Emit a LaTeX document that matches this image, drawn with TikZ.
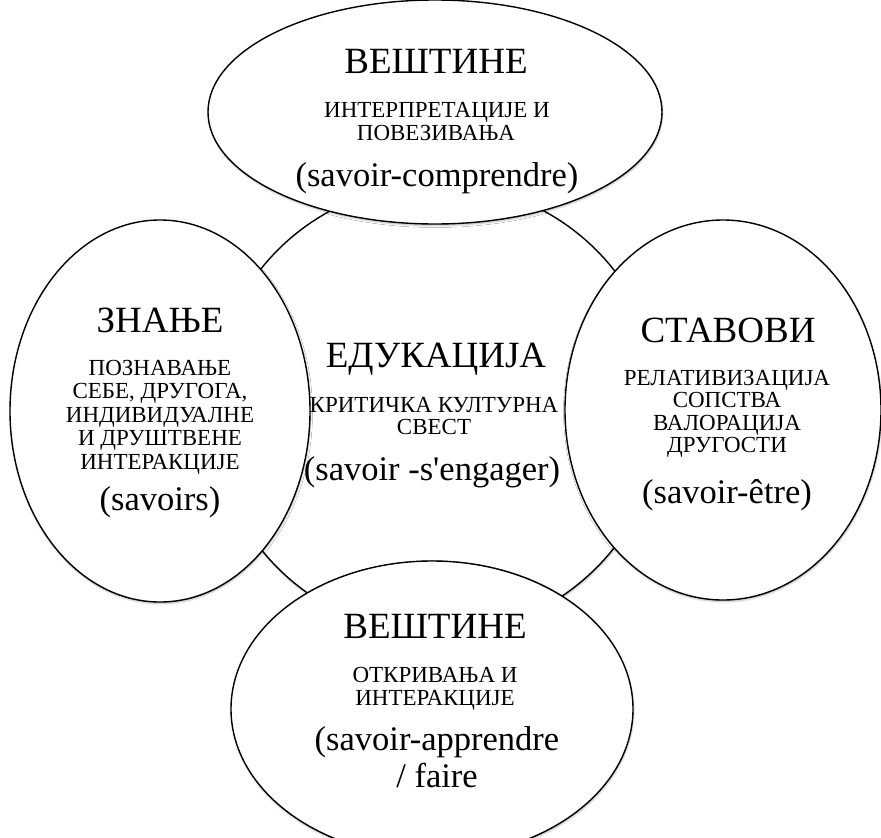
\documentclass[tikz,border=0pt]{standalone}
\usepackage{fontspec}
\setmainfont{Liberation Serif}
\usetikzlibrary{shapes.geometric,shadows.blur}
\begin{document}
\begin{tikzpicture}[x=1pt,y=-1pt,
  bubble/.style={ellipse, draw=black, line width=1.4pt, fill=white, inner sep=0pt,
     blur shadow={shadow xshift=0.5pt, shadow yshift=-1.5pt, shadow opacity=30, shadow blur radius=2pt}},
  title/.style={font=\fontsize{37}{40}\selectfont, anchor=base, inner sep=0pt},
  sub/.style={font=\fontsize{23}{25}\selectfont, anchor=base, inner sep=0pt},
  par/.style={font=\fontsize{34.5}{38}\selectfont, anchor=base, inner sep=0pt},
]
\useasboundingbox (0,0) rectangle (881,838);
% central circle
\node[bubble, minimum width=450pt, minimum height=450pt] (core) at (437,409) {};
% surrounding ellipses
\node[bubble, minimum width=454pt, minimum height=224pt] (top) at (435,112) {};
\node[bubble, minimum width=300pt, minimum height=382pt] (left) at (160,411) {};
\node[bubble, minimum width=316pt, minimum height=380pt] (right) at (723,410) {};
\node[bubble, minimum width=402pt, minimum height=296pt] (bottom) at (432,709) {};
% top texts
\node[title] (t1) at (436,73) {ВЕШТИНЕ};
\node[sub] (t2) at (437,117) {ИНТЕРПРЕТАЦИЈЕ И};
\node[sub] (t3) at (436,140) {ПОВЕЗИВАЊА};
\node[par] (t4) at (437,186) {(savoir-comprendre)};
% left texts
\node[title] (l1) at (160,332) {ЗНАЊЕ};
\node[sub] (l2) at (160,375) {ПОЗНАВАЊЕ};
\node[sub] (l3) at (160,398) {СЕБЕ, ДРУГОГА,};
\node[sub] (l4) at (160,422) {ИНДИВИДУАЛНЕ};
\node[sub] (l5) at (160,445) {И ДРУШТВЕНЕ};
\node[sub] (l6) at (160,469) {ИНТЕРАКЦИЈЕ};
\node[par] (l7) at (160,510) {(savoirs)};
% right texts
\node[title] (r1) at (728,342) {СТАВОВИ};
\node[sub] (r2) at (727,385) {РЕЛАТИВИЗАЦИЈА};
\node[sub] (r3) at (727,407) {СОПСТВА};
\node[sub] (r4) at (727,430) {ВАЛОРАЦИЈА};
\node[sub] (r5) at (727,452) {ДРУГОСТИ};
\node[par] (r6) at (727,503) {(savoir-être)};
% bottom texts
\node[title] (b1) at (435,638) {ВЕШТИНЕ};
\node[sub] (b2) at (435,682) {ОТКРИВАЊА И};
\node[sub] (b3) at (435,705) {ИНТЕРАКЦИЈЕ};
\node[par] (b4) at (437,750) {(savoir-apprendre};
\node[par] (b5) at (437,787) {/ faire};
% centre texts
\node[title] (c1) at (436,367) {ЕДУКАЦИЈА};
\node[sub] (c2) at (434,412) {КРИТИЧКА КУЛТУРНА};
\node[sub] (c3) at (434,434) {СВЕСТ};
\node[par] (c4) at (432,480) {(savoir -s\textquotesingle engager)};
\end{tikzpicture}
\end{document}
